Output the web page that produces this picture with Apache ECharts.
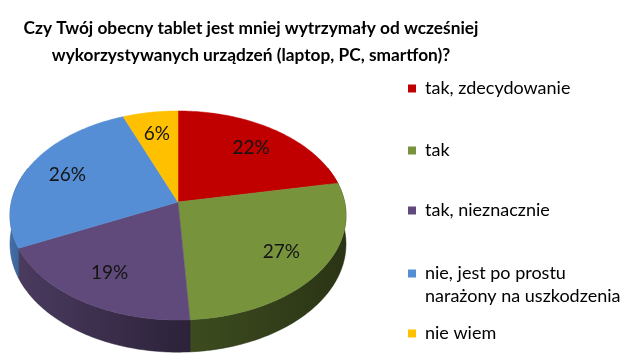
<!DOCTYPE html>
<html>
<head>
<meta charset="utf-8">
<script src="https://cdn.jsdelivr.net/npm/echarts@6/dist/echarts.min.js"></script>
<style>
html,body{margin:0;padding:0;background:#fff;}
#chart{width:636px;height:361px;}
</style>
</head>
<body>
<div id="chart"></div>
<script>
// ---- data ----
const titleText = 'Czy Twój obecny tablet jest mniej wytrzymały od wcześniej\nwykorzystywanych urządzeń (laptop, PC, smartfon)?';
const categories = ['tak, zdecydowanie', 'tak', 'tak, nieznacznie', 'nie, jest po prostu\nnarażony na uszkodzenia', 'nie wiem'];
const values = [22, 27, 19, 26, 6];
const labels = ['22%', '27%', '19%', '26%', '6%'];

// ---- styles ----
const topColors = ['#C00000', '#77933C', '#604A7B', '#558ED5', '#FFC000'];
const sideColors = [['#8a0000', '#700000'], ['#3d4c1f', '#2a3415'], ['#4a3b5f', '#2c2239'], ['#4470a8', '#33568a'], ['#c99600', '#a87c00']];
const FONT = 'Lato';

// projection of the tilted disk (perspective)
const CX = 178, CY = 202, A = 102.8, B = 166.6, K = -0.129, D0 = 28;
function proj(deg, f) {
  const t = deg * Math.PI / 180;
  const s = Math.sin(t) * f, v = -Math.cos(t) * f;
  const den = 1 + K * v;
  return [CX + B * s / den, CY + A * v / den, den];
}

const total = values.reduce((a, b) => a + b, 0);

function makeRender(idx) {
  return function (params, api) {
    const val = api.value(0);
    let before = 0;
    for (let i = 0; i < idx; i++) before += values[i];
    const a0 = before / total * 360, a1 = (before + val) / total * 360;
    const children = [];
    const topPts = [proj(0, 0).slice(0, 2)];
    for (let d = a0; d < a1; d += 1) topPts.push(proj(d, 1).slice(0, 2));
    topPts.push(proj(a1, 1).slice(0, 2));
    children.push({ type: 'polygon', z2: 10, shape: { points: topPts }, style: { fill: topColors[idx], stroke: topColors[idx], lineWidth: 0.5 } });
    const lo = Math.max(a0, 70), hi = Math.min(a1, 290);
    if (hi > lo) {
      const up = [], down = [];
      const steps = [];
      for (let d = lo; d < hi; d += 1) steps.push(d);
      steps.push(hi);
      steps.forEach(d => {
        const p = proj(d, 1);
        up.push([p[0], p[1]]);
        down.push([p[0], p[1] + D0 / p[2]]);
      });
      const pts = up.concat(down.reverse());
      children.push({
        type: 'polygon', z2: 1, shape: { points: pts },
        style: {
          fill: new echarts.graphic.LinearGradient(0, 0, 1, 0, [
            { offset: 0, color: sideColors[idx][0] }, { offset: 1, color: sideColors[idx][1] }
          ]),
          stroke: sideColors[idx][1], lineWidth: 0.5
        }
      });
    }
    const mid = (a0 + a1) / 2;
    const lp = proj(mid, 0.74);
    children.push({
      type: 'text', z2: 20, x: lp[0], y: lp[1],
      style: { text: labels[idx], fill: '#141414', font: '19px ' + FONT, align: 'center', verticalAlign: 'middle' }
    });
    return { type: 'group', children: children };
  };
}

const series = categories.map((name, i) => ({
  type: 'custom',
  name: name,
  coordinateSystem: 'none',
  itemStyle: { color: topColors[i] },
  silent: true,
  animation: false,
  renderItem: makeRender(i),
  data: [[values[i]]]
}));

const legendTops = [77, 139, 199, 239, 322];
const legends = categories.map((name, i) => ({
  orient: 'vertical',
  left: 408,
  top: legendTops[i],
  padding: 0,
  icon: 'rect',
  itemWidth: 8,
  itemHeight: 8,
  selectedMode: false,
  formatter: i === 3 ? (n => ' \n' + n) : (n => n),
  data: [{ name: name, itemStyle: { color: topColors[i] } }],
  textStyle: {
    fontFamily: FONT, fontSize: 18, color: '#000', lineHeight: 23,
    padding: [0, 0, 0, 4]
  }
}));

const chart = echarts.init(document.getElementById('chart'), null, { renderer: 'canvas' });
chart.setOption({
  backgroundColor: '#fff',
  animation: false,
  title: {
    text: titleText,
    left: 251,
    top: 15,
    padding: 0,
    textAlign: 'center',
    textStyle: { fontFamily: FONT, fontSize: 17.3, fontWeight: 'bold', color: '#000', lineHeight: 27 }
  },
  legend: legends,
  series: series
});
</script>
</body>
</html>
